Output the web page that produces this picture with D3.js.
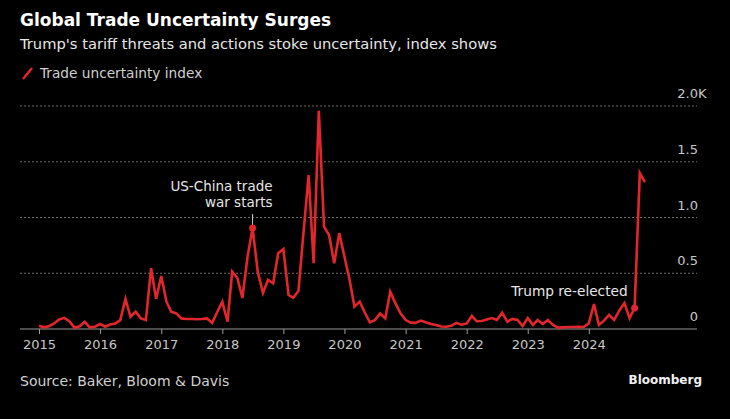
<!DOCTYPE html>
<html>
<head>
<meta charset="utf-8">
<script src="https://cdn.jsdelivr.net/npm/d3@7"></script>
<style>
  html, body { margin: 0; padding: 0; background: #000; }
  svg { display: block; font-family: "DejaVu Sans", Verdana, sans-serif; }
</style>
</head>
<body>
<script>
// Monthly trade uncertainty index, Jan 2015 - Dec 2024
const values2015 = [30, 15, 25, 50, 85, 100, 70, 12, 25, 65, 15, 20];
const values2016 = [45, 20, 40, 50, 80, 270, 110, 155, 95, 80, 545, 270];
const values2017 = [475, 245, 155, 140, 95, 90, 90, 88, 90, 95, 55, 150];
const values2018 = [245, 65, 515, 457, 278, 650, 905, 510, 323, 440, 410, 680];
const values2019 = [717, 305, 280, 340, 860, 1380, 590, 1958, 918, 843, 590, 860];
const values2020 = [650, 440, 200, 245, 150, 60, 80, 140, 95, 335, 230, 140];
const values2021 = [80, 57, 55, 75, 60, 45, 36, 22, 20, 30, 55, 38];
const values2022 = [50, 117, 70, 72, 85, 98, 81, 146, 66, 90, 81, 27];
const values2023 = [98, 36, 81, 45, 81, 36, 12, 15, 18, 18, 20, 18];
const values2024 = [50, 224, 36, 75, 126, 81, 164, 233, 98, 188, 1399, 1318];

const yearTicks = [2015, 2016, 2017, 2018, 2019, 2020, 2021, 2022, 2023, 2024];
const yTicks = [0, 500, 1000, 1500, 2000];
const yTickLabels = ['0', '0.5', '1.0', '1.5', '2.0'];

const annotations = [
  {year: 2018, month: 6, lines: ['US-China trade', 'war starts']},
  {year: 2024, month: 9, lines: ['Trump re-elected']}
];

const width = 730;
const height = 419;
const red = '#e3262b';

const values = [].concat(values2015, values2016, values2017, values2018, values2019,
  values2020, values2021, values2022, values2023, values2024);
const months = d3.timeMonths(new Date(2015, 0, 1), new Date(2025, 0, 1));
const data = months.map((d, i) => ({date: d, value: values[i]}));

const svg = d3.select('body').append('svg')
  .attr('width', width)
  .attr('height', height);

svg.append('rect').attr('width', width).attr('height', height).attr('fill', '#000');

const xScale = d3.scaleTime()
  .domain([new Date(2015, 0, 1), new Date(2025, 0, 1)])
  .range([39, 650]);

const yScale = d3.scaleLinear()
  .domain([0, 2000])
  .range([329, 106]);

// titles
svg.append('text')
  .attr('x', 20).attr('y', 26)
  .attr('fill', '#fff')
  .attr('font-size', 17).attr('font-weight', 'bold')
  .text('Global Trade Uncertainty Surges');

svg.append('text')
  .attr('x', 20).attr('y', 49)
  .attr('fill', '#e6e6e6')
  .attr('font-size', 14.7)
  .text("Trump's tariff threats and actions stoke uncertainty, index shows");

// legend
svg.append('line')
  .attr('x1', 23).attr('y1', 79).attr('x2', 32).attr('y2', 68)
  .attr('stroke', red).attr('stroke-width', 2.5);
svg.append('text')
  .attr('x', 40).attr('y', 78)
  .attr('fill', '#d0d0d0')
  .attr('font-size', 13.7)
  .text('Trade uncertainty index');

// grid lines
svg.append('g').selectAll('line')
  .data(yTicks.filter(d => d > 0))
  .enter().append('line')
  .attr('x1', 20).attr('x2', 697)
  .attr('y1', d => yScale(d)).attr('y2', d => yScale(d))
  .attr('stroke', '#6a6a6a')
  .attr('stroke-width', 1)
  .attr('stroke-dasharray', '2,2');

// y labels (right side, above grid lines)
const yLab = svg.append('g');
yLab.selectAll('text')
  .data(yTicks)
  .enter().append('text')
  .attr('x', 698)
  .attr('y', d => yScale(d) - 8)
  .attr('text-anchor', 'end')
  .attr('fill', '#c8c8c8')
  .attr('font-size', 13)
  .text((d, i) => yTickLabels[i]);
yLab.append('text')
  .attr('x', 698).attr('y', yScale(2000) - 8)
  .attr('fill', '#c8c8c8')
  .attr('font-size', 13)
  .text('K');

// x axis
const xAxis = d3.axisBottom(xScale)
  .tickValues(yearTicks.map(y => new Date(y, 0, 1)))
  .tickFormat(d3.timeFormat('%Y'))
  .tickSize(5)
  .tickPadding(6);

const gx = svg.append('g')
  .attr('transform', 'translate(0,' + yScale(0) + ')')
  .call(xAxis);
gx.select('.domain').remove();
gx.selectAll('line').attr('stroke', '#9a9a9a');
gx.selectAll('text')
  .attr('fill', '#c8c8c8')
  .attr('font-size', 13)
  .attr('font-family', '"DejaVu Sans", Verdana, sans-serif');

svg.append('line')
  .attr('x1', 20).attr('x2', 697)
  .attr('y1', yScale(0)).attr('y2', yScale(0))
  .attr('stroke', '#9a9a9a').attr('stroke-width', 1.2);

// the line
const line = d3.line()
  .x(d => xScale(d.date))
  .y(d => yScale(d.value));

svg.append('path')
  .datum(data)
  .attr('d', line)
  .attr('fill', 'none')
  .attr('stroke', red)
  .attr('stroke-width', 2.6)
  .attr('stroke-linejoin', 'miter');

// annotations
annotations.forEach((a, k) => {
  const pt = data.find(d => d.date.getFullYear() === a.year && d.date.getMonth() === a.month);
  const px = xScale(pt.date);
  const py = yScale(pt.value);
  const g = svg.append('g');
  if (k === 0) {
    g.append('line')
      .attr('x1', px).attr('x2', px)
      .attr('y1', py - 14).attr('y2', py - 2)
      .attr('stroke', '#cfcfcf').attr('stroke-width', 1);
    g.selectAll('text')
      .data(a.lines)
      .enter().append('text')
      .attr('x', px + 20)
      .attr('y', (d, i) => py - 37 + i * 16)
      .attr('text-anchor', 'end')
      .attr('fill', '#e6e6e6')
      .attr('font-size', 13.5)
      .text(d => d);
  } else {
    g.append('text')
      .attr('x', px - 7)
      .attr('y', py - 12)
      .attr('text-anchor', 'end')
      .attr('fill', '#e6e6e6')
      .attr('font-size', 13.7)
      .text(a.lines[0]);
  }
  g.append('circle')
    .attr('cx', px).attr('cy', py).attr('r', 3.5)
    .attr('fill', red);
});

// footer
svg.append('text')
  .attr('x', 20).attr('y', 386)
  .attr('fill', '#d0d0d0')
  .attr('font-size', 14)
  .text('Source: Baker, Bloom & Davis');

svg.append('text')
  .attr('x', 702).attr('y', 384)
  .attr('text-anchor', 'end')
  .attr('fill', '#f0f0f0')
  .attr('font-size', 12)
  .attr('font-weight', 'bold')
  .text('Bloomberg');
</script>
</body>
</html>
